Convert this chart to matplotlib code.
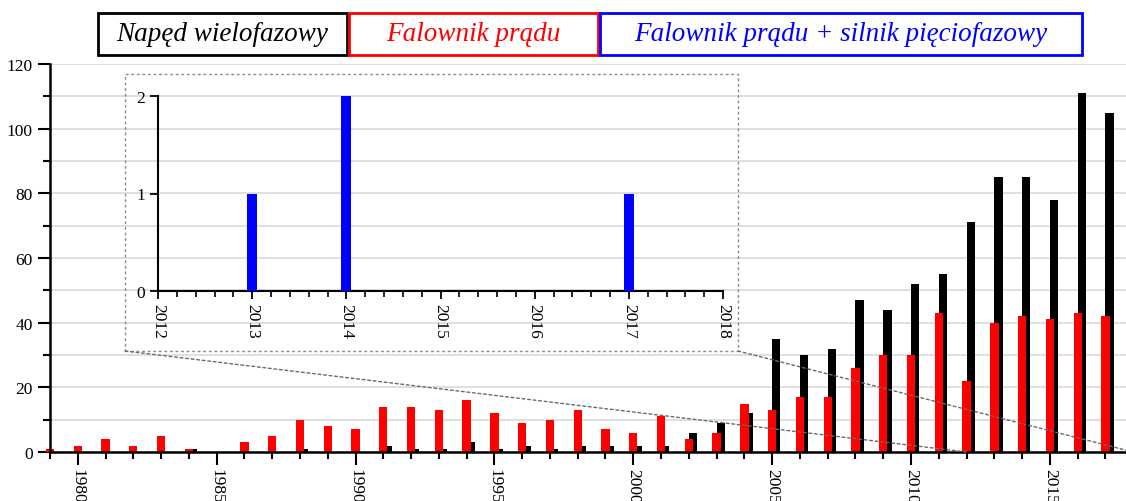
import numpy as np
import matplotlib.pyplot as plt
from matplotlib.patches import Rectangle, ConnectionPatch
from matplotlib.ticker import MultipleLocator

# data
years = np.arange(1979, 2018)
multiphase = [0, 0, 0, 0, 0, 1, 0, 0, 0, 1, 0, 0,
              2, 1, 1, 3, 1, 2, 1, 2, 2, 2,
              2, 6, 9, 12, 35, 30, 32, 47, 44, 52,
              55, 71, 85, 85, 78, 111, 105]
current_inv = [1, 2, 4, 2, 5, 1, 0, 3, 5, 10, 8, 7,
               14, 14, 13, 16, 12, 9, 10, 13, 7, 6,
               11, 4, 6, 15, 13, 17, 17, 26, 30, 30,
               43, 22, 40, 42, 41, 43, 42]
inset_years = [2012, 2013, 2014, 2015, 2016, 2017]
five_phase = [0, 1, 2, 0, 0, 1]

labels = ['Napęd wielofazowy', 'Falownik prądu',
          'Falownik prądu + silnik pięciofazowy']
colors = ['black', 'red', 'blue']

plt.rcParams['font.family'] = ['Liberation Serif', 'DejaVu Serif']

W, H = 1126, 502
fig = plt.figure(figsize=(W / 100, H / 100), dpi=100)

ax = fig.add_axes([50 / W, 1 - 453 / H, 1 - 50 / W, (453 - 65) / H])
ax.bar(years + 0.15, multiphase, width=0.3, color='black', zorder=2, clip_on=False)
ax.bar(years, current_inv, width=0.3, color='red', zorder=3, clip_on=False)
ax.set_xlim(1979, 2017.74)
ax.set_ylim(0, 120)
ax.xaxis.set_major_locator(MultipleLocator(5))
ax.xaxis.set_minor_locator(MultipleLocator(1))
ax.yaxis.set_major_locator(MultipleLocator(20))
ax.yaxis.set_minor_locator(MultipleLocator(10))
ax.grid(axis='y', which='both', color='#dcdcdc', lw=1.3, zorder=0)
ax.set_axisbelow(True)
for s in ['top', 'right']:
    ax.spines[s].set_visible(False)
for s in ['left', 'bottom']:
    ax.spines[s].set_linewidth(1.8)
    ax.spines[s].set_zorder(4)
ax.tick_params(which='major', direction='out', length=9, width=1.5, labelsize=12.5)
ax.tick_params(which='minor', direction='out', length=5, width=1.5)
ax.tick_params(axis='x', labelrotation=270, pad=2.5)

# inset
axins = fig.add_axes([158 / W, 1 - 292 / H, (723 - 158) / W, (292 - 97) / H])
axins.patch.set_alpha(0)
axins.bar(inset_years, five_phase, width=0.105, color='blue', zorder=3)
axins.set_xlim(2012, 2018)
axins.set_ylim(0, 2)
axins.set_xticks(range(2012, 2019))
axins.xaxis.set_minor_locator(MultipleLocator(0.2))
axins.set_yticks([0, 1, 2])
for s in ['top', 'right']:
    axins.spines[s].set_visible(False)
for s in ['left', 'bottom']:
    axins.spines[s].set_linewidth(1.5)
axins.tick_params(which='major', direction='out', length=6, width=1.3, labelsize=12.5)
axins.tick_params(which='minor', direction='out', length=4, width=1.2)
axins.tick_params(axis='x', labelrotation=270, pad=3)

# dotted frame around inset and zoom lines
bx0, bx1, by0, by1 = 125 / W, 738 / W, 1 - 352 / H, 1 - 75 / H
fig.add_artist(Rectangle((bx0, by0), bx1 - bx0, by1 - by0, transform=fig.transFigure,
                         fill=False, ec='#8a8a8a', lw=1, ls=(0, (2, 2))))
for xf, xd in [(bx0, 2012), (bx1, 2018)]:
    con = ConnectionPatch(xyA=(xf, by0), coordsA=fig.transFigure,
                          xyB=(xd, 0), coordsB=ax.transData,
                          color='#6a6a6a', lw=1, ls=(0, (2, 2)))
    fig.add_artist(con)

# legend boxes
boxes = [(98, 347), (349, 598), (600, 1082)]
for (x0, x1), lab, c in zip(boxes, labels, colors):
    fig.add_artist(Rectangle((x0 / W, 1 - 56 / H), (x1 - x0) / W, 42 / H,
                             transform=fig.transFigure, fill=False, ec=c, lw=2))
    fig.text((x0 + x1) / 2 / W, 1 - 35 / H, lab, color=c, fontsize=19.5,
             style='italic', ha='center', va='center')

fig.savefig('out.png', dpi=100)
